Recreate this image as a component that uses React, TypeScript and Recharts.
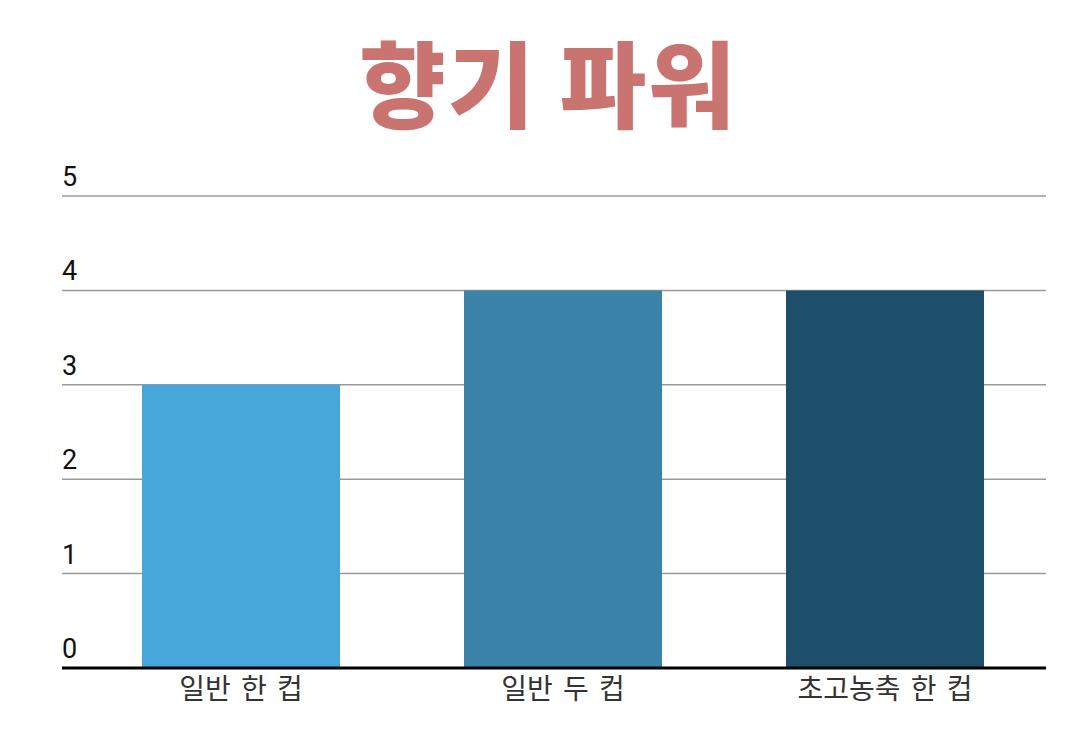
import React from "react";
import { BarChart, Bar, XAxis, YAxis, CartesianGrid, Cell } from "recharts";

const categories = ["일반 한 컵", "일반 두 컵", "초고농축 한 컵"];
const values = [3, 4, 4];
const barColors = ["#47a7da", "#3a82a8", "#1d4f6b"];
const yTicks = [0, 1, 2, 3, 4, 5];
const title = "향기 파워";

const data = categories.map((name, i) => ({ name, power: values[i] }));

const YTick = (props: any) => {
  const { y, payload } = props;
  return (
    <text
      x={62}
      y={y - 10}
      textAnchor="start"
      fontSize={27}
      fontFamily="Roboto, sans-serif"
      fill="#111"
    >
      {payload.value}
    </text>
  );
};

const XTick = (props: any) => {
  const { x, y, payload } = props;
  return (
    <text
      x={x}
      y={y + 31}
      textAnchor="middle"
      fontSize={28}
      fontFamily="'Noto Sans CJK KR', sans-serif"
      fill="#333"
      style={{ wordSpacing: "4px" }}
    >
      {payload.value}
    </text>
  );
};

export default function App() {
  return (
    <div style={{ position: "absolute", left: 0, top: 0, width: 1075, height: 733, background: "#fff" }}>
      <svg width={1075} height={150} style={{ position: "absolute", left: 0, top: 0 }}>
        <text
          x={548}
          y={121}
          textAnchor="middle"
          fontSize={94}
          fontWeight={900}
          fontFamily="'Noto Sans CJK KR', sans-serif"
          fill="#c97470"
          style={{ letterSpacing: "2px" }}
        >
          {title}
        </text>
      </svg>
      <div style={{ position: "absolute", left: 0, top: 0 }}>
        <BarChart
          width={1075}
          height={733}
          data={data}
          margin={{ top: 196, right: 29, left: 61, bottom: 0 }}
        >
          <CartesianGrid vertical={false} stroke="#9a9a9a" strokeWidth={1.5} />
          <YAxis
            width={1}
            domain={[0, 5]}
            ticks={yTicks}
            interval={0}
            axisLine={false}
            tickLine={false}
            tick={<YTick />}
          />
          <XAxis
            dataKey="name"
            height={65}
            padding={{ left: 18, right: 0 }}
            axisLine={{ stroke: "#000", strokeWidth: 3 }}
            tickLine={false}
            tickSize={0}
            tickMargin={0}
            tick={<XTick />}
          />
          <Bar dataKey="power" barSize={198} isAnimationActive={false}>
            {data.map((d, i) => (
              <Cell key={d.name} fill={barColors[i]} />
            ))}
          </Bar>
        </BarChart>
      </div>
    </div>
  );
}
